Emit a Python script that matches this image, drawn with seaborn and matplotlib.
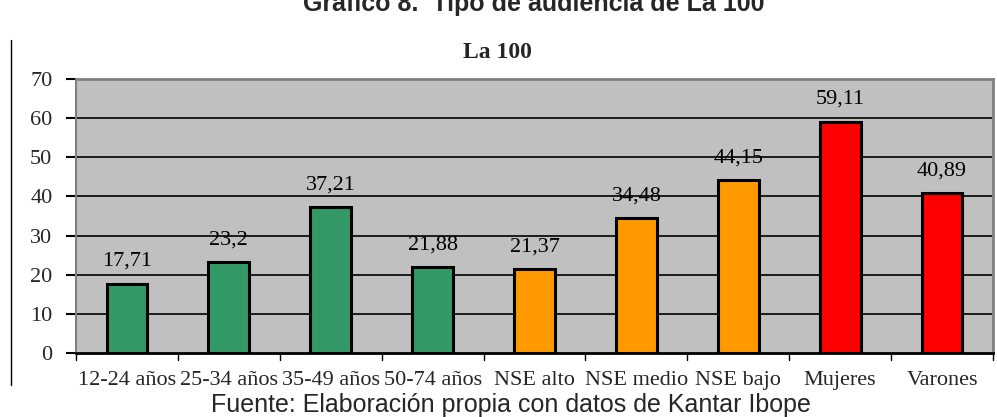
import matplotlib
matplotlib.use("Agg")
import matplotlib.pyplot as plt
import seaborn as sns
import pandas as pd
from matplotlib.lines import Line2D

categories = ["12-24 años", "25-34 años", "35-49 años", "50-74 años",
              "NSE alto", "NSE medio", "NSE bajo", "Mujeres", "Varones"]
values = [17.71, 23.2, 37.21, 21.88, 21.37, 34.48, 44.15, 59.11, 40.89]
value_labels = ["17,71", "23,2", "37,21", "21,88", "21,37", "34,48", "44,15", "59,11", "40,89"]
bar_colors = ["#339966"] * 4 + ["#FF9900"] * 3 + ["#FF0000"] * 2
yticks = [0, 10, 20, 30, 40, 50, 60, 70]

sns.set_theme(style="white")
plt.rcParams['font.family'] = ['Liberation Serif', 'DejaVu Serif']

W, H = 997, 417
fig = plt.figure(figsize=(W / 100, H / 100), dpi=100)
ax = fig.add_axes([76 / W, 1 - 353 / H, (993 - 76) / W, (353 - 79) / H])

df = pd.DataFrame({"cat": categories, "val": values})
sns.barplot(data=df, x="cat", y="val", hue="cat", palette=bar_colors,
            legend=False, width=0.4, edgecolor="black", linewidth=2.2,
            saturation=1, ax=ax, zorder=3)

ax.set_facecolor("#C0C0C0")
ax.set_ylim(0, 70)
ax.set_xlim(-0.5, len(categories) - 0.5)
ax.set_yticks(yticks)
ax.set_yticklabels([str(t) for t in yticks], fontsize=16)
for t in yticks[1:-1]:
    ax.axhline(t, color="black", linewidth=1.2, zorder=1)

ax.set_xticks(range(len(categories)))
ax.set_xticklabels(categories, fontsize=16)
ax.tick_params(axis="x", length=0, pad=13)
ax.tick_params(axis="y", length=7, width=1.5, color="black", direction="out", left=True, pad=10)
# boundary ticks on x axis
for b in [i - 0.5 for i in range(len(categories) + 1)]:
    ax.plot([b, b], [0, -0.025], transform=ax.get_xaxis_transform(), color="black",
            linewidth=1, clip_on=False, zorder=5)

ax.set_xlabel("")
ax.set_ylabel("")
for side in ["top", "right"]:
    ax.spines[side].set_color("#808080")
    ax.spines[side].set_linewidth(2)
ax.spines["left"].set_color("#808080")
ax.spines["left"].set_linewidth(1.5)
ax.spines["bottom"].set_color("black")
ax.spines["bottom"].set_linewidth(2)
ax.spines["bottom"].set_zorder(6)

for patch, lab in zip(ax.patches, value_labels):
    x = patch.get_x() + patch.get_width() / 2
    y = patch.get_height()
    ax.annotate(lab, (x, y), xytext=(0, 16), textcoords="offset points",
                ha="center", va="center", fontsize=16, color="black", zorder=7)

fig.text(497 / W, 1 - 52 / H, "La 100", ha="center", va="center",
         fontsize=17, fontweight="bold")
fig.text(534 / W, 1 - 11 / H, "Gráfico 8.  Tipo de audiencia de La 100", ha="center",
         va="baseline", fontsize=18, fontweight="bold", family=["Liberation Sans", "DejaVu Sans"])
fig.text(511 / W, 1 - 405 / H, "Fuente: Elaboración propia con datos de Kantar Ibope",
         ha="center", va="center", fontsize=18, family=["Liberation Sans", "DejaVu Sans"])
fig.add_artist(Line2D([11 / W, 11 / W], [1 - 40 / H, 1 - 385 / H], color="black", linewidth=1))

fig.savefig("out.png", dpi=100)
